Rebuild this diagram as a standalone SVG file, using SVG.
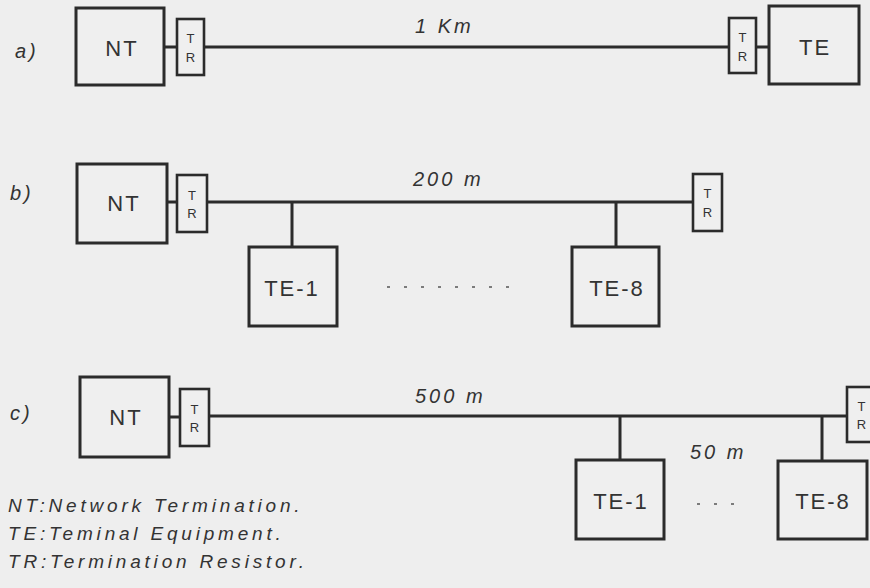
<svg xmlns="http://www.w3.org/2000/svg" width="870" height="588" viewBox="0 0 870 588">
<style>
.box{fill:#efefef;stroke:#2b2b2b;stroke-width:3}
.tr{fill:#efefef;stroke:#2b2b2b;stroke-width:2.6}
.ln{fill:none;stroke:#2b2b2b;stroke-width:3}
.lbl{font-family:"Liberation Sans",Arial,sans-serif;font-size:22px;fill:#333;text-anchor:middle;letter-spacing:2px}
.trt{font-family:"Liberation Sans",Arial,sans-serif;font-size:13px;fill:#333;text-anchor:middle}
.it{font-family:"Liberation Sans",Arial,sans-serif;font-style:italic;font-size:20px;fill:#333;letter-spacing:3px}
.leg{font-family:"Liberation Sans",Arial,sans-serif;font-style:italic;font-size:19px;fill:#333;letter-spacing:3.8px}
.dots{fill:none;stroke:#555;stroke-width:1.5;stroke-dasharray:3 14}
</style>
<rect width="870" height="588" fill="#eeeeee"/>

<!-- row a -->
<text class="it" x="15" y="58">a)</text>
<g id="a-nt"><rect class="box" x="76" y="8" width="88" height="77"/><text class="lbl" x="122" y="56">NT</text></g>
<g id="a-tr1"><rect class="tr" x="177" y="19" width="27" height="56"/><text class="trt" x="190.5" y="43">T</text><text class="trt" x="190.5" y="62">R</text></g>
<g id="a-tr2"><rect class="tr" x="729" y="18" width="27" height="55"/><text class="trt" x="742.5" y="42">T</text><text class="trt" x="742.5" y="61">R</text></g>
<g id="a-te"><rect class="box" x="769" y="6" width="90" height="78"/><text class="lbl" x="815" y="55">TE</text></g>
<text class="it" x="415" y="33">1 Km</text>

<!-- row b -->
<text class="it" x="10" y="200">b)</text>
<g id="b-nt"><rect class="box" x="77" y="164" width="90" height="79"/><text class="lbl" x="124" y="211">NT</text></g>
<g id="b-tr1"><rect class="tr" x="177" y="175" width="30" height="57"/><text class="trt" x="192" y="200">T</text><text class="trt" x="192" y="218">R</text></g>
<g id="b-tr2"><rect class="tr" x="693" y="174" width="29" height="57"/><text class="trt" x="707.5" y="198">T</text><text class="trt" x="707.5" y="217">R</text></g>
<g id="b-te1"><rect class="box" x="249" y="247" width="88" height="79"/><text class="lbl" x="292" y="296">TE-1</text></g>
<g id="b-te8"><rect class="box" x="572" y="247" width="87" height="79"/><text class="lbl" x="617" y="296">TE-8</text></g>
<text class="it" x="413" y="186">200 m</text>
<line class="dots" x1="387" y1="287" x2="512" y2="287"/>

<!-- row c -->
<text class="it" x="10" y="420">c)</text>
<g id="c-nt"><rect class="box" x="80" y="377" width="89" height="80"/><text class="lbl" x="126" y="425">NT</text></g>
<g id="c-tr1"><rect class="tr" x="180" y="389" width="29" height="57"/><text class="trt" x="194.5" y="414">T</text><text class="trt" x="194.5" y="432">R</text></g>
<g id="c-tr2"><rect class="tr" x="847" y="387" width="29" height="55"/><text class="trt" x="861.5" y="411">T</text><text class="trt" x="861.5" y="429">R</text></g>
<g id="c-te1"><rect class="box" x="576" y="460" width="88" height="79"/><text class="lbl" x="621" y="509">TE-1</text></g>
<g id="c-te8"><rect class="box" x="778" y="461" width="89" height="78"/><text class="lbl" x="823" y="509">TE-8</text></g>
<text class="it" x="415" y="403">500 m</text>
<text class="it" x="690" y="459">50 m</text>
<line class="dots" x1="697" y1="504" x2="740" y2="504"/>

<g id="connectors">
<line class="ln" x1="164" y1="47" x2="177" y2="47"/>
<line class="ln" x1="204" y1="47" x2="729" y2="47"/>
<line class="ln" x1="756" y1="47" x2="769" y2="47"/>

<line class="ln" x1="167" y1="202" x2="177" y2="202"/>
<line class="ln" x1="207" y1="202" x2="693" y2="202"/>
<line class="ln" x1="292" y1="202" x2="292" y2="247"/>
<line class="ln" x1="616" y1="202" x2="616" y2="247"/>

<line class="ln" x1="169" y1="417" x2="180" y2="417"/>
<line class="ln" x1="209" y1="416" x2="847" y2="416"/>
<line class="ln" x1="620" y1="416" x2="620" y2="460"/>
<line class="ln" x1="822" y1="416" x2="822" y2="461"/>
</g>

<g id="legend">
<text class="leg" x="8" y="512">NT:Network Termination.</text>
<text class="leg" x="8" y="540">TE:Teminal Equipment.</text>
<text class="leg" x="8" y="568">TR:Termination Resistor.</text>
</g>
</svg>
